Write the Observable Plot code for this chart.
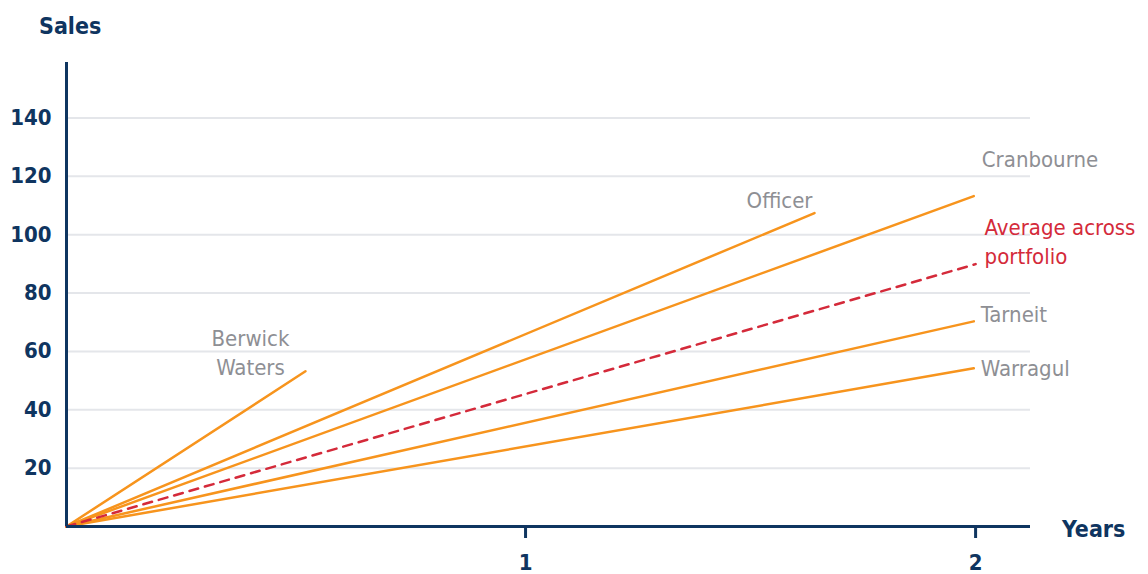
<!DOCTYPE html>
<html>
<head>
<meta charset="utf-8">
<script src="https://cdn.jsdelivr.net/npm/d3@7"></script>
<script src="https://cdn.jsdelivr.net/npm/@observablehq/plot@0.6"></script>
<style>
  html, body { margin: 0; padding: 0; background: #fff; }
  #wrap { position: relative; width: 1148px; height: 574px; overflow: hidden; }
  .ttl { position: absolute; font-family: 'DejaVu Sans Condensed', 'Liberation Sans Narrow', sans-serif; font-weight: bold; font-size: 23px; color: #0f3560; line-height: 1; }
</style>
</head>
<body>
<div id="wrap">
  <div class="ttl" id="ytitle" style="left:39px; top:15px;">Sales</div>
  <div class="ttl" id="xtitle" style="left:1062px; top:518px;">Years</div>
</div>
<script>
// ---- data ----
const origin = { year: -0.02, sales: 0 };
const seriesNames = ["Berwick Waters", "Officer", "Cranbourne", "Tarneit", "Warragul"];
const endYears    = [0.511, 1.642, 1.996, 1.996, 1.996];
const endSales    = [53.2, 107.4, 113.2, 70.3, 54.2];
const averageName = "Average across portfolio";
const averageEnd  = { year: 2.0, sales: 89.9 };
const yTicks = [20, 40, 60, 80, 100, 120, 140];
const xTicks = [1, 2];
const xDomain = [-0.02, 2.122];
const yDomain = [0, 159];

// ---- build tables ----
const lines = seriesNames.flatMap((name, i) => [
  { name, year: origin.year, sales: origin.sales },
  { name, year: endYears[i], sales: endSales[i] }
]);
const avgLine = [
  { name: averageName, year: origin.year, sales: origin.sales },
  { name: averageName, year: averageEnd.year, sales: averageEnd.sales }
];
const ends = Object.fromEntries(seriesNames.map((n, i) => [n, { year: endYears[i], sales: endSales[i] }]));

const FONT = "'DejaVu Sans Condensed', 'Liberation Sans Narrow', sans-serif";
const NAVY = "#0f3560";
const ORANGE = "#f7941d";
const RED = "#d42a3a";
const GREY = "#8e8f94";
const LABEL_SIZE = 22;

function lab(text, pt, opts) {
  return Plot.text([pt], {
    x: "year", y: "sales", text: () => text,
    fill: opts.fill || GREY, fontSize: LABEL_SIZE, fontFamily: FONT,
    textAnchor: opts.anchor || "start", lineAnchor: "middle",
    dx: opts.dx || 0, dy: opts.dy || 0, lineHeight: 1.3
  });
}

const chart = Plot.plot({
  width: 1148,
  height: 574,
  marginLeft: 66,
  marginRight: 118,
  marginTop: 62,
  marginBottom: 48,
  style: { fontFamily: FONT, background: "transparent", overflow: "visible" },
  x: { domain: xDomain, ticks: xTicks },
  y: { domain: yDomain, ticks: yTicks },
  marks: [
    Plot.ruleY(yTicks, { x1: xDomain[0], x2: xDomain[1], stroke: "#e4e6ea", strokeWidth: 2 }),
    Plot.axisY({ ticks: yTicks, tickSize: 0, tickPadding: 15, fontSize: 22, fontWeight: "bold", fill: NAVY, label: null }),
    Plot.axisX({ ticks: xTicks, tickFormat: "d", tickSize: 12, tickPadding: 16, fontSize: 22, fontWeight: "bold", fill: NAVY, stroke: NAVY, strokeWidth: 3, label: null }),
    Plot.line(lines, { x: "year", y: "sales", z: "name", stroke: ORANGE, strokeWidth: 2.5 }),
    Plot.line(avgLine, { x: "year", y: "sales", stroke: RED, strokeWidth: 2.5, strokeDasharray: "9,7" }),
    Plot.ruleX([xDomain[0]], { stroke: NAVY, strokeWidth: 3 }),
    Plot.ruleY([0], { stroke: NAVY, strokeWidth: 3 }),
    lab("Berwick\nWaters", ends["Berwick Waters"], { anchor: "middle", dx: -55, dy: -20 }),
    lab("Officer", ends["Officer"], { anchor: "end", dx: -2, dy: -14 }),
    lab("Cranbourne", ends["Cranbourne"], { dx: 8, dy: -38 }),
    lab("Average across\nportfolio", averageEnd, { fill: RED, dx: 9, dy: -24 }),
    lab("Tarneit", ends["Tarneit"], { dx: 7, dy: -9 }),
    lab("Warragul", ends["Warragul"], { dx: 7, dy: -1 })
  ]
});
document.getElementById("wrap").prepend(chart);
chart.style.position = "absolute";
chart.style.left = "0";
chart.style.top = "0";
</script>
</body>
</html>
